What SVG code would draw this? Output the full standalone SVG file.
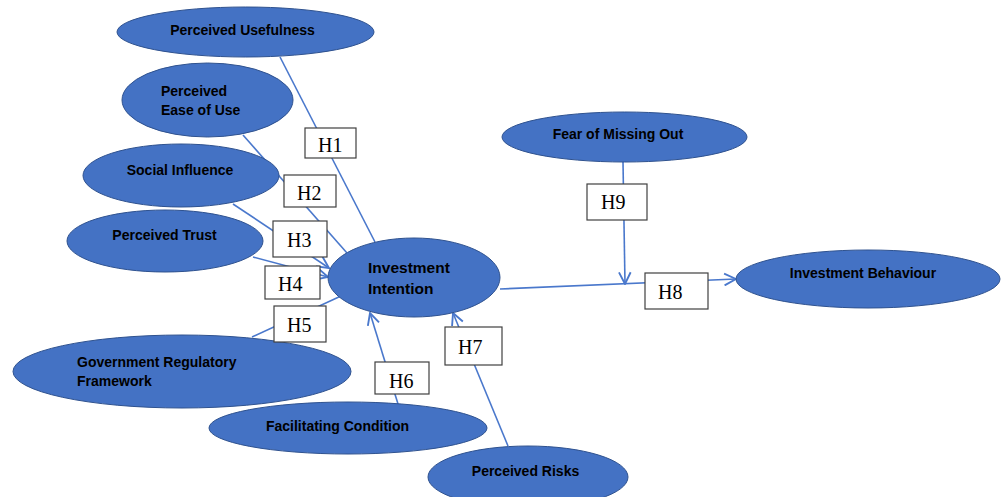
<svg xmlns="http://www.w3.org/2000/svg" width="1006" height="497" viewBox="0 0 1006 497">
<style>
.node{fill:#4472C4;stroke:#2F528F;stroke-width:1}
.nt{font-family:"Liberation Sans",Arial,sans-serif;font-weight:bold;font-size:14px;fill:#000}
.big{font-size:15.5px}
.c{text-anchor:middle}
.conn{stroke:#4A78CC;stroke-width:1.6;fill:none}
.lb rect{fill:#fff;stroke:#404040;stroke-width:1.2}
.lb text{font-family:"Liberation Serif","Times New Roman",serif;font-size:20px;fill:#000}
</style>
<defs>
<marker id="arr" markerUnits="userSpaceOnUse" markerWidth="14" markerHeight="14" viewBox="0 0 12 12" refX="11" refY="6" orient="auto">
<path d="M1,1 L11,6 L1,11" fill="none" stroke="#4A78CC" stroke-width="1.6"/>
</marker>
</defs>
<rect width="1006" height="497" fill="#fff"/>
<g id="connectors">
<line class="conn" x1="280" y1="57" x2="375" y2="242"/>
<line class="conn" x1="243" y1="135" x2="347" y2="253"/>
<line class="conn" x1="233" y1="204" x2="329" y2="268" marker-end="url(#arr)"/>
<line class="conn" x1="253" y1="257" x2="328" y2="277" marker-end="url(#arr)"/>
<line class="conn" x1="252" y1="337" x2="341" y2="296"/>
<line class="conn" x1="398" y1="404" x2="370" y2="313" marker-end="url(#arr)"/>
<line class="conn" x1="508" y1="446" x2="453" y2="313" marker-end="url(#arr)"/>
<line class="conn" x1="500" y1="289" x2="736" y2="279" marker-end="url(#arr)"/>
<line class="conn" x1="623" y1="162" x2="625" y2="284" marker-end="url(#arr)"/>
</g>
<g id="n-pu"><ellipse class="node" cx="245.5" cy="32" rx="128.5" ry="25"/><text class="nt c" x="242.5" y="35">Perceived Usefulness</text></g>
<g id="n-peou"><ellipse class="node" cx="207.5" cy="100" rx="85.5" ry="37"/><text class="nt" x="161" y="96">Perceived</text><text class="nt" x="161" y="114.5">Ease of Use</text></g>
<g id="n-si"><ellipse class="node" cx="181" cy="175.5" rx="98" ry="31.5"/><text class="nt c" x="180" y="174.5">Social Influence</text></g>
<g id="n-pt"><ellipse class="node" cx="165" cy="241" rx="98" ry="31"/><text class="nt c" x="164.5" y="239.5">Perceived Trust</text></g>
<g id="n-grf"><ellipse class="node" cx="182" cy="371.5" rx="169" ry="36.5"/><text class="nt" x="77" y="367">Government Regulatory</text><text class="nt" x="77" y="385.5">Framework</text></g>
<g id="n-fc"><ellipse class="node" cx="348" cy="428" rx="139" ry="26"/><text class="nt c" x="337.5" y="431">Facilitating Condition</text></g>
<g id="n-pr"><ellipse class="node" cx="528" cy="477" rx="100" ry="31"/><text class="nt c" x="525.5" y="476">Perceived Risks</text></g>
<g id="n-ii"><ellipse class="node" cx="414" cy="277.5" rx="86" ry="39.5"/><text class="nt big" x="368" y="273">Investment</text><text class="nt big" x="368" y="293.5">Intention</text></g>
<g id="n-fomo"><ellipse class="node" cx="624.5" cy="137" rx="122.5" ry="25"/><text class="nt c" x="618" y="139">Fear of Missing Out</text></g>
<g id="n-ib"><ellipse class="node" cx="868" cy="279" rx="132" ry="29"/><text class="nt c" x="863" y="278">Investment Behaviour</text></g>
<g id="labels">
<g class="lb" id="l-h1"><rect x="305" y="128" width="51" height="30"/><text x="318" y="152">H1</text></g>
<g class="lb" id="l-h2"><rect x="284" y="175" width="52" height="32"/><text x="297" y="200">H2</text></g>
<g class="lb" id="l-h3"><rect x="273" y="221" width="54" height="36"/><text x="287" y="247">H3</text></g>
<g class="lb" id="l-h4"><rect x="265" y="266" width="55" height="33"/><text x="278" y="291">H4</text></g>
<g class="lb" id="l-h5"><rect x="274" y="306" width="52" height="36"/><text x="287" y="332">H5</text></g>
<g class="lb" id="l-h6"><rect x="375" y="362" width="54" height="32"/><text x="389" y="388">H6</text></g>
<g class="lb" id="l-h7"><rect x="445" y="327" width="57" height="38"/><text x="458" y="354">H7</text></g>
<g class="lb" id="l-h9"><rect x="587" y="184" width="60" height="36"/><text x="601" y="209">H9</text></g>
<g class="lb" id="l-h8"><rect x="645" y="273" width="63" height="36"/><text x="658" y="299">H8</text></g>
</g>
</svg>
